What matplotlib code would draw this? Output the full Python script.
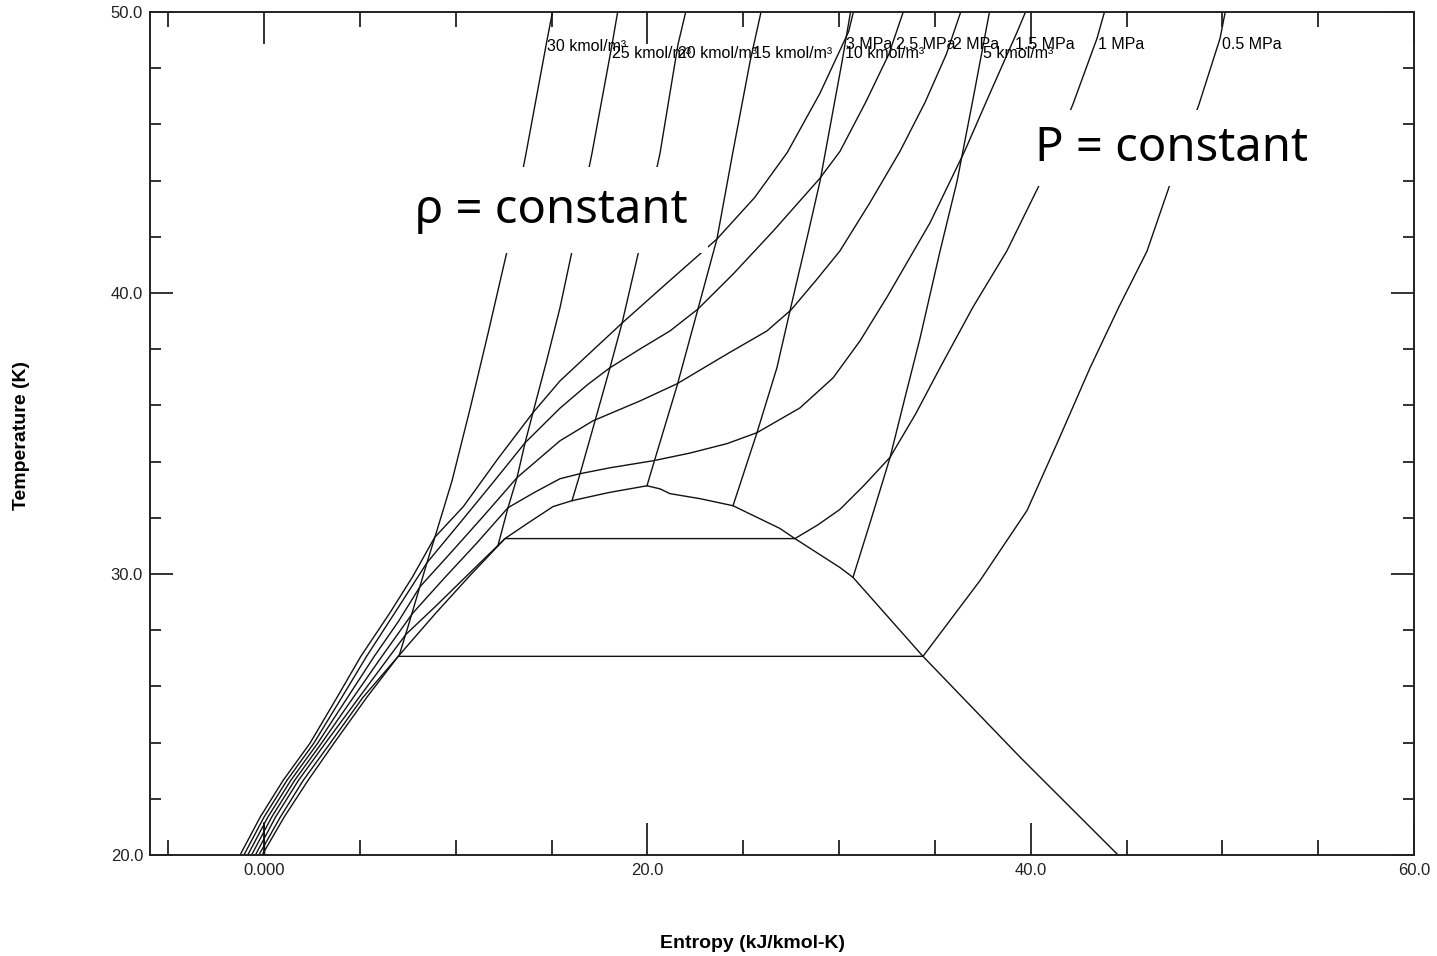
import numpy as np
import matplotlib
matplotlib.use("Agg")
import matplotlib.pyplot as plt

plt.rcParams['font.family'] = ['Liberation Sans', 'DejaVu Sans']

# isobars: entropy (kJ/kmol-K) vs temperature (K)
p30_s = [-1.25, -0.2, 1.0, 2.4, 3.8, 5.05, 6.55, 7.75, 8.9, 10.4, 12.2, 14.03, 15.44, 16.9,
         18.68, 21.1, 23.63, 25.6, 27.3, 29.0, 30.5, 30.75]
p30_T = [20.0, 21.35, 22.66, 23.98, 25.6, 27.07, 28.6, 29.9, 31.3, 32.4, 34.1, 35.74, 36.87, 37.8,
         38.93, 40.4, 41.92, 43.4, 45.0, 47.1, 49.3, 50.0]

p25_s = [-1.05, 0.0, 1.2, 2.6, 4.05, 5.35, 6.9, 8.5, 10.2, 12.0, 13.62, 15.44, 16.9, 18.05,
         19.6, 21.18, 22.64, 24.47, 26.56, 29.0, 30.05, 31.4, 32.6, 33.35]
p25_T = [20.0, 21.35, 22.66, 23.98, 25.6, 27.07, 28.7, 30.4, 31.8, 33.3, 34.67, 35.9, 36.75, 37.34,
         38.0, 38.65, 39.43, 40.67, 42.2, 44.08, 45.04, 46.8, 48.5, 50.0]

p20_s = [-0.85, 0.2, 1.4, 2.8, 4.35, 5.75, 7.0, 8.14, 9.8, 11.5, 13.2, 15.44, 17.16, 19.62,
         21.55, 24.16, 26.24, 27.5, 28.8, 30.05, 31.6, 33.18, 34.5, 35.6, 36.35]
p20_T = [20.0, 21.35, 22.66, 23.98, 25.6, 27.07, 28.3, 29.55, 30.8, 32.1, 33.43, 34.74, 35.45, 36.16,
         36.77, 37.83, 38.65, 39.4, 40.45, 41.5, 43.2, 45.04, 46.8, 48.5, 50.0]

p15_s = [-0.65, 0.4, 1.6, 3.0, 4.65, 6.15, 7.75, 9.4, 11.1, 12.73, 14.1, 15.44, 16.49, 18.05,
         20.3, 22.2, 24.16, 25.72, 27.96, 29.69, 31.1, 32.5, 34.75, 36.55, 38.0, 39.3, 39.73]
p15_T = [20.0, 21.35, 22.66, 23.98, 25.6, 27.07, 28.6, 29.85, 31.1, 32.36, 32.9, 33.39, 33.57, 33.78,
         34.03, 34.3, 34.64, 35.03, 35.91, 36.98, 38.3, 39.85, 42.5, 45.04, 47.3, 49.3, 50.0]

p10_s = [-0.45, 0.6, 1.8, 3.2, 4.95, 6.55, 7.4, 8.95, 10.75, 12.57, 27.7, 28.9, 30.05, 31.3,
         32.66, 34.0, 35.27, 36.99, 38.76, 40.49, 42.2, 43.46, 43.85]
p10_T = [20.0, 21.35, 22.66, 23.98, 25.6, 27.07, 27.85, 28.85, 30.05, 31.26, 31.26, 31.75, 32.3, 33.15,
         34.15, 35.7, 37.34, 39.5, 41.5, 43.9, 46.71, 49.06, 50.0]

p05_s = [-0.27, 0.85, 2.05, 3.45, 5.15, 7.0, 34.38, 37.36, 39.81, 41.37, 43.1, 44.6, 46.07,
         47.27, 48.78, 49.88, 50.15]
p05_T = [20.0, 21.35, 22.66, 23.98, 25.6, 27.07, 27.07, 29.77, 32.26, 34.64, 37.34, 39.5, 41.49,
         43.87, 46.71, 49.06, 50.0]

isobars = [
    ("3 MPa", p30_s, p30_T),
    ("2.5 MPa", p25_s, p25_T),
    ("2 MPa", p20_s, p20_T),
    ("1.5 MPa", p15_s, p15_T),
    ("1 MPa", p10_s, p10_T),
    ("0.5 MPa", p05_s, p05_T),
]

# isochores, each starting on the saturation line
r30_s = [7.05, 7.5, 8.0, 8.5, 9.0, 9.81, 10.75, 11.7, 12.68, 13.67, 14.77, 15.05]
r30_T = [27.1, 28.1, 29.25, 30.4, 31.5, 33.32, 35.88, 38.6, 41.49, 44.97, 49.02, 50.0]

r25_s = [12.2, 12.73, 13.2, 13.62, 14.03, 14.75, 15.44, 16.07, 17.11, 18.16, 18.45]
r25_T = [31.0, 32.36, 33.43, 34.67, 35.74, 37.6, 39.47, 41.49, 44.97, 48.85, 50.0]

r20_s = [16.07, 16.49, 17.27, 18.05, 18.68, 19.55, 20.66, 21.6, 22.0]
r20_T = [32.61, 33.57, 35.45, 37.34, 38.93, 41.49, 44.97, 48.85, 50.0]

r15_s = [19.98, 20.4, 21.55, 22.64, 23.63, 24.47, 25.36, 25.93]
r15_T = [33.14, 34.1, 36.7, 39.43, 41.92, 45.04, 48.24, 50.0]

r10_s = [24.47, 25.72, 26.76, 27.44, 28.38, 29.01, 30.16, 30.6]
r10_T = [32.43, 35.03, 37.34, 39.36, 42.1, 43.98, 48.24, 50.0]

r05_s = [30.73, 31.7, 32.66, 33.45, 34.23, 35.27, 36.16, 37.0, 37.85]
r05_T = [29.88, 32.0, 34.14, 36.3, 38.4, 41.49, 43.98, 46.93, 50.0]

isochores = [
    ("30 kmol/m³", r30_s, r30_T),
    ("25 kmol/m³", r25_s, r25_T),
    ("20 kmol/m³", r20_s, r20_T),
    ("15 kmol/m³", r15_s, r15_T),
    ("10 kmol/m³", r10_s, r10_T),
    ("5 kmol/m³", r05_s, r05_T),
]

# saturation dome
sat_liq_s = [-0.1, 1.05, 2.3, 3.65, 5.35, 7.0, 8.95, 10.75, 12.57, 13.72, 15.08, 16.07, 18.0, 19.98]
sat_liq_T = [20.0, 21.35, 22.66, 23.98, 25.6, 27.07, 28.6, 29.95, 31.26, 31.79, 32.4, 32.61, 32.9, 33.14]
sat_vap_s = [19.98, 20.66, 21.18, 22.75, 24.47, 26.92, 27.7, 30.05, 30.73, 34.38, 39.45, 44.56]
sat_vap_T = [33.14, 33.03, 32.86, 32.68, 32.43, 31.62, 31.26, 30.23, 29.88, 27.07, 23.48, 20.0]

# short dense-liquid piece near the reference point
stub_s = [0.03, 0.0]
stub_T = [20.0, 21.15]

fig = plt.figure(figsize=(14.37, 9.56), dpi=100)
ax = fig.add_axes([150 / 1437, 1 - 855 / 956, 1264 / 1437, 843 / 956])

line_kw = dict(color="#111111", lw=1.0, zorder=2)
ax.plot(sat_liq_s + sat_vap_s[1:], sat_liq_T + sat_vap_T[1:], **line_kw)
ax.plot(stub_s, stub_T, **line_kw)

for name, s, T in isobars:
    ax.plot(s, T, **line_kw)
    x_lab = np.interp(48.85, T[-4:], s[-4:])
    ax.annotate(name, (x_lab, 48.85), xytext=(2.5, 0), textcoords="offset points",
                fontsize=11.5, va="center", ha="left", zorder=3)

for name, s, T in isochores:
    ax.plot(s, T, **line_kw)
    t_lab = 48.77 if name.startswith("30") else 48.52
    x_lab = np.interp(t_lab, T[-4:], s[-4:])
    ax.annotate(name, (x_lab, t_lab), xytext=(1, 0), textcoords="offset points",
                fontsize=11.5, va="center", ha="left", zorder=3)

ax.text(7.88, 42.95, "ρ = constant", fontsize=34, family=["Noto Sans", "DejaVu Sans"],
        va="center", ha="left", zorder=5,
        bbox=dict(boxstyle="square,pad=0.42", fc="white", ec="none"))
ax.text(40.23, 45.15, "P = constant", fontsize=34, family=["Noto Sans", "DejaVu Sans"],
        va="center", ha="left", zorder=5,
        bbox=dict(boxstyle="square,pad=0.31", fc="white", ec="none"))

ax.set_xlim(-5.95, 60)
ax.set_ylim(20, 50)

ax.set_xticks([0, 20, 40, 60])
ax.set_xticklabels(["0.000", "20.0", "40.0", "60.0"])
ax.set_xticks(np.arange(-5, 61, 5), minor=True)
ax.set_yticks([20, 30, 40, 50])
ax.set_yticklabels(["20.0", "30.0", "40.0", "50.0"])
ax.set_yticks(np.arange(20, 51, 2), minor=True)

ax.tick_params(which="both", direction="in", top=True, right=True, width=1.3,
               labelsize=12, colors="#222222")
ax.tick_params(axis="x", which="major", length=23, pad=6)
ax.tick_params(axis="x", which="minor", length=10.5)
ax.tick_params(axis="y", which="major", length=16.5, pad=5)
ax.tick_params(axis="y", which="minor", length=8)
for sp in ax.spines.values():
    sp.set_linewidth(1.4)
    sp.set_color("#222222")

fig.text(752 / 1437, 1 - 943 / 956, "Entropy (kJ/kmol-K)", fontsize=14, fontweight="bold",
         ha="center", va="center")
fig.text(22 / 1437, 1 - 435 / 956, "Temperature (K)", fontsize=14, fontweight="bold",
         ha="center", va="center", rotation=90)

fig.savefig("out.png", dpi=100)
